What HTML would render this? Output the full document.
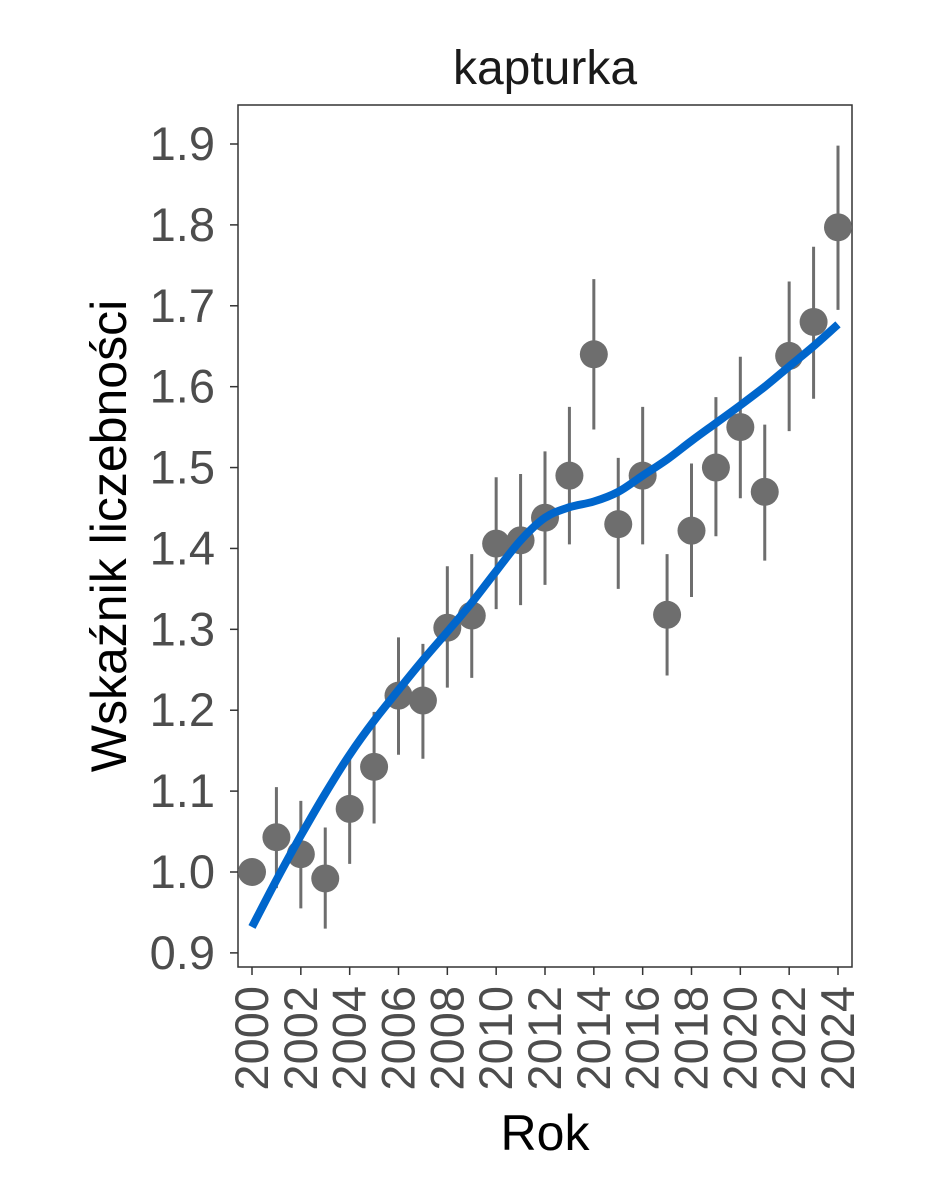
<!DOCTYPE html>
<html><head><meta charset="utf-8"><style>
html,body{margin:0;padding:0;background:#fff}
svg{display:block;font-family:"Liberation Sans",Arial,sans-serif}
</style></head><body>
<svg id="chart" width="944" height="1181" viewBox="0 0 944 1181">
<rect width="944" height="1181" fill="#fff"/>
<text x="545" y="84" text-anchor="middle" font-size="48" fill="#1a1a1a">kapturka</text>
<rect x="238" y="105" width="614" height="862" fill="none" stroke="#333" stroke-width="1.5"/>
<g id="yaxis"></g>
<g id="xaxis"></g>
<g id="marks"></g>
<text transform="translate(126,536) rotate(-90)" text-anchor="middle" font-size="50" fill="#000">Wskaźnik liczebności</text>
<text x="545" y="1150" text-anchor="middle" font-size="50" fill="#000">Rok</text>
</svg>
<script>
const years=[2000,2001,2002,2003,2004,2005,2006,2007,2008,2009,2010,2011,2012,2013,2014,2015,2016,2017,2018,2019,2020,2021,2022,2023,2024];
const values=[1.00,1.043,1.022,0.992,1.078,1.13,1.218,1.212,1.302,1.317,1.406,1.41,1.438,1.49,1.64,1.43,1.49,1.318,1.422,1.5,1.55,1.47,1.638,1.68,1.797];
const upper=[1.0,1.105,1.088,1.055,1.145,1.198,1.29,1.282,1.378,1.393,1.488,1.492,1.52,1.575,1.733,1.512,1.575,1.393,1.505,1.587,1.637,1.553,1.73,1.773,1.898];
const lower=[1.0,0.98,0.955,0.93,1.01,1.06,1.145,1.14,1.228,1.24,1.325,1.33,1.355,1.405,1.547,1.35,1.405,1.243,1.34,1.415,1.462,1.385,1.545,1.585,1.695];
const trend=[0.932,0.99,1.045,1.097,1.145,1.187,1.225,1.262,1.297,1.333,1.372,1.41,1.438,1.451,1.458,1.47,1.49,1.51,1.533,1.555,1.577,1.6,1.625,1.65,1.677];
const yTicks=[0.9,1.0,1.1,1.2,1.3,1.4,1.5,1.6,1.7,1.8,1.9];
const xTicks=[2000,2002,2004,2006,2008,2010,2012,2014,2016,2018,2020,2022,2024];
const NS="http://www.w3.org/2000/svg";
const X=v=>252+(v-2000)*(838-252)/24;
const Y=v=>872-(v-1.0)*(872-144)/0.9;
function mk(tag,attrs,parent){const e=document.createElementNS(NS,tag);for(const k in attrs)e.setAttribute(k,attrs[k]);parent.appendChild(e);return e;}
const ya=document.getElementById('yaxis'),xa=document.getElementById('xaxis'),m=document.getElementById('marks');
yTicks.forEach(t=>{
 const l=mk('line',{x1:230,x2:238,y1:Y(t),y2:Y(t),stroke:'#333','stroke-width':1.5},ya);
 
 
 const tx=mk('text',{x:215,y:Y(t)+16,'text-anchor':'end','font-size':47,fill:'#4d4d4d'},ya);
 tx.textContent=t.toFixed(1);
 
 
});
xTicks.forEach(t=>{
 const l=mk('line',{x1:X(t),x2:X(t),y1:967,y2:975,stroke:'#333','stroke-width':1.5},xa);
 
 
 const tx=mk('text',{transform:`translate(${X(t)+16},986) rotate(-90)`,'text-anchor':'end','font-size':47,fill:'#4d4d4d'},xa);
 tx.textContent=t;
 
 
});
years.forEach((yr,i)=>{
 const l=mk('line',{x1:X(yr),x2:X(yr),y1:Y(upper[i]),y2:Y(lower[i]),stroke:'#6e6e6e','stroke-width':3},m);
 
 
});
years.forEach((yr,i)=>{
 const c=mk('circle',{cx:X(yr),cy:Y(values[i]),r:14,fill:'#6e6e6e'},m);
 
 
});
const pts=years.map((yr,i)=>[X(yr),Y(trend[i])]);
let d='M'+pts[0][0].toFixed(1)+','+pts[0][1].toFixed(1);
for(let i=0;i<pts.length-1;i++){
 const p0=pts[Math.max(0,i-1)],p1=pts[i],p2=pts[i+1],p3=pts[Math.min(pts.length-1,i+2)];
 const c1=[p1[0]+(p2[0]-p0[0])/6,p1[1]+(p2[1]-p0[1])/6];
 const c2=[p2[0]-(p3[0]-p1[0])/6,p2[1]-(p3[1]-p1[1])/6];
 d+=` C${c1[0].toFixed(1)},${c1[1].toFixed(1)} ${c2[0].toFixed(1)},${c2[1].toFixed(1)} ${p2[0].toFixed(1)},${p2[1].toFixed(1)}`;
}
const p=mk('path',{d:d,fill:'none',stroke:'#0066cc','stroke-width':8},m);


</script>
</body></html>
